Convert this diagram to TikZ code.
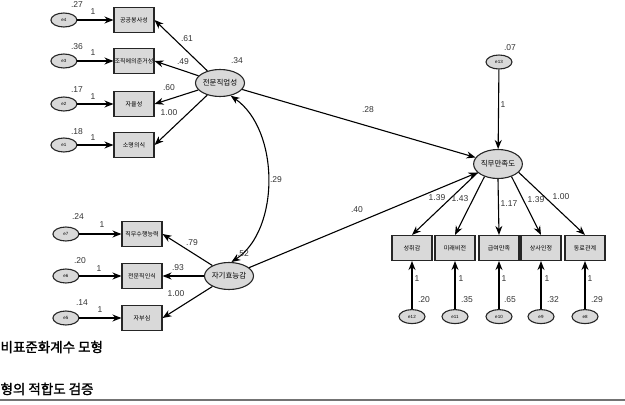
\documentclass[tikz,border=0pt]{standalone}
\usepackage{fontspec}
\setmainfont{Liberation Sans}
\newfontfamily\kr{Noto Sans CJK KR}
\newfontfamily\krb{Noto Sans CJK KR}[FakeBold=1.6]
\usepackage{xcolor}
\usetikzlibrary{positioning,arrows.meta,shapes.geometric}

\begin{document}
\begin{tikzpicture}[x=1pt, y=-1pt, >={Stealth[length=9pt,width=7pt]}, line width=1.1pt,
  obs/.style={rectangle, draw=black!85, fill=black!15, minimum width=40pt, minimum height=25pt, inner sep=0pt, font=\kr\fontsize{6}{7}\selectfont},
  lat/.style={ellipse, draw=black!85, fill=black!15, minimum width=49pt, minimum height=27pt, inner sep=0pt, font=\kr\fontsize{7.5}{9}\selectfont},
  err/.style={ellipse, draw=black!85, fill=black!15, minimum width=26pt, minimum height=14pt, inner sep=0pt, font=\fontsize{4.5}{5}\selectfont},
  num/.style={inner sep=0pt, text=black!80, font=\fontsize{8.5}{10}\selectfont}]
\useasboundingbox (0,0) rectangle (625,405);

% latent variables
\node[lat] (pro) at (220,83) {전문직업성};
\node[lat] (eff) at (229,276) {자기효능감};
\node[lat, minimum width=48pt, minimum height=29pt] (sat) at (498,164) {직무만족도};
\node[err] (e13) at (499,62) {e13};

% indicators
\node[obs] (b1) at (134,20) {공공봉사성};
\node[obs] (b2) at (134,61) {조직에의준거성};
\node[obs] (b3) at (134,104) {자율성};
\node[obs] (b4) at (134,145) {소명의식};
\node[obs] (b5) at (142,234) {직무수행능력};
\node[obs] (b6) at (142,276) {전문직인식};
\node[obs] (b7) at (142,318) {자부심};
\node[obs] (c1) at (412,248) {성취감};
\node[obs] (c2) at (455,248) {미래비전};
\node[obs] (c3) at (499,248) {급여만족};
\node[obs] (c4) at (541,248) {상사인정};
\node[obs] (c5) at (585,248) {동료관계};

% errors
\node[err, left=36pt of b1] (e4) {e4};
\node[err, left=36pt of b2] (e3) {e3};
\node[err, left=36pt of b3] (e2) {e2};
\node[err, left=36pt of b4] (e1) {e1};
\node[err, left=42pt of b5] (e7) {e7};
\node[err, left=42pt of b6] (e6) {e6};
\node[err, left=42pt of b7] (e5) {e5};
\node[err, below=48pt of c1] (e12) {e12};
\node[err, below=48pt of c2] (e11) {e11};
\node[err, below=48pt of c3] (e10) {e10};
\node[err, below=48pt of c4] (e9) {e9};
\node[err, below=48pt of c5] (e8) {e8};

% paths
\draw[->] (e4) -- (b1);
\draw[->] (e3) -- (b2);
\draw[->] (e2) -- (b3);
\draw[->] (e1) -- (b4);
\draw[->] (e7) -- (b5);
\draw[->] (e6) -- (b6);
\draw[->] (e5) -- (b7);
\draw[->] (e12) -- (c1);
\draw[->] (e11) -- (c2);
\draw[->] (e10) -- (c3);
\draw[->] (e9) -- (c4);
\draw[->] (e8) -- (c5);
\draw[->] (pro) -- (b1.east);
\draw[->] (pro) -- (b2.east);
\draw[->] (pro) -- (b3.east);
\draw[->] (pro) -- (b4.east);
\draw[->] (eff) -- (b5.east);
\draw[->] (eff) -- (b6.east);
\draw[->] (eff) -- (b7.east);
\draw[->] (sat.203) -- (c1.north);
\draw[->] (sat.223) -- (c2.north);
\draw[->] (sat.south) -- (c3.north);
\draw[->] (sat.-43) -- (c4.north);
\draw[->] (sat.-22) -- (c5.north);
\draw[->] (e13) -- (sat);
\draw[->] (pro) -- (sat);
\draw[->] (eff) -- (sat);
\draw[<->] (pro.-50) .. controls (280,130) and (280,230) .. (eff.80);

% estimates
\node[num] (v27) at (77,5) {.27};
\node[num] (v36) at (77,47) {.36};
\node[num] (v17) at (77,90) {.17};
\node[num] (v18) at (77,132) {.18};
\node[num] (f4) at (93,12) {1};
\node[num] (f3) at (93,53) {1};
\node[num] (f2) at (93,97) {1};
\node[num] (f1) at (93,138) {1};
\node[num] (l61) at (187,39) {.61};
\node[num] (l49) at (183,62) {.49};
\node[num] (l60) at (169,88) {.60};
\node[num] (l100a) at (169,113) {1.00};
\node[num] (v34) at (237,61) {.34};
\node[num] (c29) at (276,180) {.29};
\node[num] (v24) at (78,217) {.24};
\node[num] (v20a) at (80,261) {.20};
\node[num] (v14) at (82,303) {.14};
\node[num] (f7) at (102,225) {1};
\node[num] (f6) at (99,269) {1};
\node[num] (f5) at (100,310) {1};
\node[num] (l79) at (192,243) {.79};
\node[num] (l93) at (178,268) {.93};
\node[num] (l100b) at (176,294) {1.00};
\node[num] (v52) at (243,254) {.52};
\node[num] (v07) at (510,48) {.07};
\node[num] (f13) at (503,105) {1};
\node[num] (g28) at (368,110) {.28};
\node[num] (g40) at (357,210) {.40};
\node[num] (m139a) at (437,198) {1.39};
\node[num] (m143) at (460,199) {1.43};
\node[num] (m117) at (509,204) {1.17};
\node[num] (m139b) at (536,200) {1.39};
\node[num] (m100) at (561,197) {1.00};
\node[num] (f12) at (417,279) {1};
\node[num] (f11) at (461,279) {1};
\node[num] (f10) at (504,279) {1};
\node[num] (f9) at (547,279) {1};
\node[num] (f8) at (590,279) {1};
\node[num] (v20b) at (424,300) {.20};
\node[num] (v35) at (467,300) {.35};
\node[num] (v65) at (510,300) {.65};
\node[num] (v32) at (553,300) {.32};
\node[num] (v29) at (597,300) {.29};

% caption
\node[anchor=west, inner sep=0pt, font=\krb\fontsize{13.5}{15}\selectfont] (cap1) at (0,347) {비표준화계수 모형};
\node[anchor=west, inner sep=0pt, font=\krb\fontsize{13.5}{15}\selectfont] (cap2) at (0,389) {형의 적합도 검증};
\coordinate (r0) at (0,400);
\coordinate (r1) at (625,400);
\draw[line width=1.3pt, black!55] (r0) -- (r1);
\end{tikzpicture}
\end{document}
